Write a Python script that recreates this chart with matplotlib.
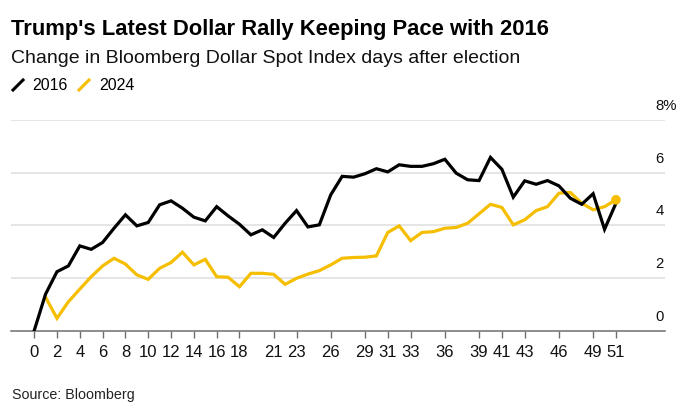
import numpy as np
import matplotlib.pyplot as plt
from matplotlib.lines import Line2D

plt.rcParams['font.family'] = ['Liberation Sans', 'DejaVu Sans']

# dias despues de la eleccion
days = list(range(52))
xticks = [0, 2, 4, 6, 8, 10, 12, 14, 16, 18, 21, 23, 26, 29, 31, 33, 36, 39, 41, 43, 46, 49, 51]
yticks = [0, 2, 4, 6, 8]

# cambio % del Bloomberg Dollar Spot Index
y2016 = [0.00, 1.39, 2.24, 2.46, 3.22, 3.09, 3.35, 3.89, 4.40, 3.98,
         4.11, 4.78, 4.93, 4.65, 4.31, 4.17, 4.71, 4.36, 4.04, 3.64,
         3.83, 3.54, 4.08, 4.56, 3.94, 4.02, 5.16, 5.86, 5.83, 5.96,
         6.15, 6.03, 6.30, 6.24, 6.24, 6.34, 6.51, 5.98, 5.73, 5.70,
         6.58, 6.13, 5.07, 5.69, 5.56, 5.70, 5.50, 5.03, 4.80, 5.20,
         3.85, 4.84]
y2024 = [np.nan, 1.27, 0.47, 1.10, 1.58, 2.05, 2.46, 2.75, 2.53, 2.12,
         1.95, 2.37, 2.59, 2.98, 2.50, 2.71, 2.05, 2.03, 1.67, 2.18,
         2.18, 2.14, 1.76, 1.99, 2.15, 2.28, 2.50, 2.75, 2.78, 2.79,
         2.84, 3.73, 3.98, 3.42, 3.73, 3.76, 3.89, 3.92, 4.08, 4.44,
         4.80, 4.68, 4.02, 4.21, 4.56, 4.71, 5.22, 5.25, 4.84, 4.59,
         4.71, 4.97]

W, H = 699, 418
BLACK = '#000000'
YELLOW = '#F5BE00'

def fx(x):
    return x / W

def fy(y):
    return 1 - y / H

fig = plt.figure(figsize=(W / 100, H / 100), dpi=100)
fig.patch.set_facecolor('white')

# ejes en pixeles: izquierda 11, derecha 665, abajo 330.7, arriba 120
ax = fig.add_axes([fx(11), fy(330.7), fx(665 - 11), (330.7 - 120) / H])
ax.set_xlim(-2.03, 55.3)
ax.set_ylim(0, 8)

ax.plot(days, y2024, color=YELLOW, lw=2.3, solid_joinstyle='miter', zorder=3)
ax.plot(days, y2016, color=BLACK, lw=2.3, solid_joinstyle='miter', zorder=4)
ax.scatter([days[-1]], [y2024[-1]], s=48, color=YELLOW, zorder=5, edgecolors='none')

# cuadricula
for v in yticks[1:]:
    ax.axhline(v, color='#dedede', lw=1.1, zorder=1)
for s in ['top', 'right', 'left']:
    ax.spines[s].set_visible(False)
ax.spines['bottom'].set_color('#6e6e6e')
ax.spines['bottom'].set_linewidth(1.1)

ax.set_yticks([])
ax.set_xticks(xticks)
ax.set_xticklabels([str(t) for t in xticks],
                   family=['Liberation Sans Narrow', 'Liberation Sans'])
ax.tick_params(axis='x', length=5, width=1, color='#6e6e6e', pad=5,
               labelsize=12, labelcolor='#111111')

# etiquetas del eje y, encima de cada linea
for v in yticks:
    lab = '8%' if v == 8 else str(v)
    ax.text(0.985, v + 0.38, lab, transform=ax.get_yaxis_transform(),
            ha='left', va='baseline', fontsize=10.7, color='#111111')

# titulos
fig.text(fx(11), fy(35), "Trump's Latest Dollar Rally Keeping Pace with 2016",
         fontsize=15.8, fontweight='bold', ha='left', va='baseline', color='#000000')
fig.text(fx(11), fy(63), 'Change in Bloomberg Dollar Spot Index days after election',
         fontsize=14, ha='left', va='baseline', color='#111111')

# leyenda
fig.add_artist(Line2D([fx(13), fx(23)], [fy(90), fy(80)], color=BLACK, lw=2.2))
fig.text(fx(32), fy(90), '2016', fontsize=11.5, ha='left', va='baseline')
fig.add_artist(Line2D([fx(79), fx(89)], [fy(90), fy(80)], color=YELLOW, lw=2.2))
fig.text(fx(99), fy(90), '2024', fontsize=11.5, ha='left', va='baseline')

fig.text(fx(12), fy(399), 'Source: Bloomberg', fontsize=10.3, ha='left', va='baseline',
         color='#222222')

fig.savefig('out.png', dpi=100)
